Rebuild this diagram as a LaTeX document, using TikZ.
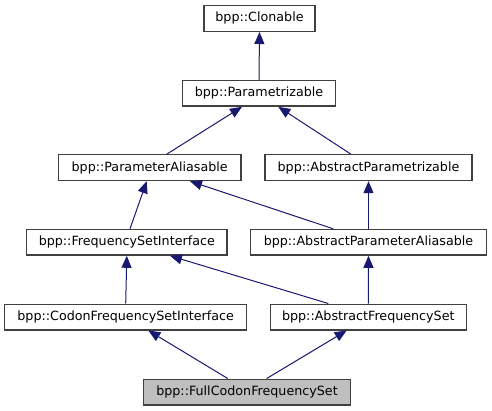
\documentclass[tikz,border=0pt]{standalone}
\usepackage{fontspec}
\setmainfont{DejaVu Sans}
\usetikzlibrary{arrows.meta}
\definecolor{edgeblue}{HTML}{191970}
\definecolor{boxgray}{HTML}{404040}
\definecolor{curfill}{HTML}{BFBFBF}
\begin{document}
\begin{tikzpicture}[x=1pt,y=-1pt,
  cls/.style={draw=boxgray,line width=1.3pt,fill=white,minimum height=25.7pt,inner sep=0pt,
    font=\fontsize{12.7}{15}\selectfont},
  cur/.style={cls,draw=boxgray,fill=curfill},
  inh/.style={draw=edgeblue,line width=1pt,-{Triangle[length=12pt,width=10pt]},color=edgeblue}]
\useasboundingbox (0,0) rectangle (492,411);
\node[cls,minimum width=111pt]   (clon) at (259.5,18.5) {bpp::Clonable};
\node[cls,minimum width=153.4pt] (par)  at (259,93.3) {bpp::Parametrizable};
\node[cls,minimum width=182.7pt] (pa)   at (149.7,167.7) {bpp::ParameterAliasable};
\node[cls,minimum width=207pt]   (apz)  at (368.5,167.7) {bpp::AbstractParametrizable};
\node[cls,minimum width=200.3pt] (fsi)  at (126.8,242.3) {bpp::FrequencySetInterface};
\node[cls,minimum width=236.4pt] (apa)  at (368.5,242.3) {bpp::AbstractParameterAliasable};
\node[cls,minimum width=242pt]   (cfsi) at (125.7,317) {bpp::CodonFrequencySetInterface};
\node[cls,minimum width=196pt]   (afs)  at (368.3,317) {bpp::AbstractFrequencySet};
\node[cur,minimum width=207.4pt] (fcs)  at (247,392) {bpp::FullCodonFrequencySet};
\draw[inh] (par.north) -- (clon.south);
\draw[inh] ([xshift=17pt]pa.north) -- ([xshift=-17pt]par.south);
\draw[inh] ([xshift=-17.5pt]apz.north) -- ([xshift=19.3pt]par.south);
\draw[inh] ([xshift=3.2pt]fsi.north) -- ([xshift=-3pt]pa.south);
\draw[inh] ([xshift=-35.2pt]apa.north) -- ([xshift=40.3pt]pa.south);
\draw[inh] (apa.north) -- (apz.south);
\draw[inh] (cfsi.north) -- (fsi.south);
\draw[inh] ([xshift=-40pt]afs.north) -- ([xshift=43.2pt]fsi.south);
\draw[inh] (afs.north) -- (apa.south);
\draw[inh] ([xshift=-19.3pt]fcs.north) -- ([xshift=22.6pt]cfsi.south);
\draw[inh] ([xshift=19.7pt]fcs.north) -- ([xshift=-21.6pt]afs.south);
\end{tikzpicture}
\end{document}
